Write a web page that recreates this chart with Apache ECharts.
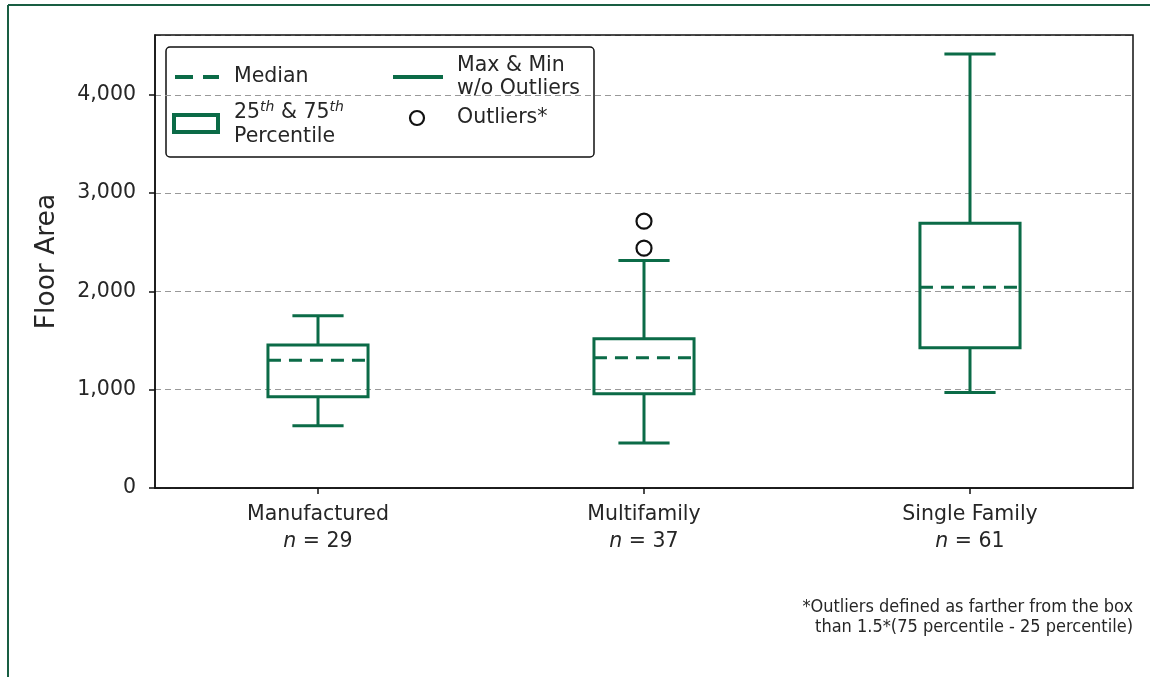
<!DOCTYPE html>
<html>
<head>
<meta charset="utf-8">
<script src="https://cdn.jsdelivr.net/npm/echarts@6/dist/echarts.min.js"></script>
<style>
html,body{margin:0;padding:0;background:#fff;}
#chart{width:1150px;height:677px;}
</style>
</head>
<body>
<div id="chart"></div>
<script>
// ---- data ----
var categories = ['Manufactured', 'Multifamily', 'Single Family'];
var nCounts = [29, 37, 61];
var whiskerLow = [632, 459, 971];
var q1 = [928, 958, 1427];
var median = [1300, 1325, 2042];
var q3 = [1455, 1519, 2694];
var whiskerHigh = [1753, 2314, 4414];
var outlierCategory = [1, 1];
var outlierValue = [2440, 2714];
var yTicks = [0, 1000, 2000, 3000, 4000];
var yMax = 4608;

var GREEN = '#0b6b47';
var FONT = 'DejaVu Sans';
var FS = 20.5;

var boxData = categories.map(function (c, i) {
  return [i, whiskerLow[i], q1[i], median[i], q3[i], whiskerHigh[i]];
});
var outlierData = outlierCategory.map(function (c, i) { return [c, outlierValue[i]]; });

function renderBox(params, api) {
  var x = api.value(0);
  var pLow = api.coord([x, api.value(1)]);
  var pQ1 = api.coord([x, api.value(2)]);
  var pMed = api.coord([x, api.value(3)]);
  var pQ3 = api.coord([x, api.value(4)]);
  var pHigh = api.coord([x, api.value(5)]);
  var band = api.size([1, 0])[0];
  var boxW = band * 0.307;
  var capW = band * 0.157;
  var cx = pQ1[0];
  var st = { stroke: GREEN, lineWidth: 3, fill: null };
  return {
    type: 'group',
    children: [
      { type: 'line', shape: { x1: cx, y1: pQ3[1], x2: cx, y2: pHigh[1] }, style: st },
      { type: 'line', shape: { x1: cx - capW / 2, y1: pHigh[1], x2: cx + capW / 2, y2: pHigh[1] }, style: st },
      { type: 'line', shape: { x1: cx, y1: pQ1[1], x2: cx, y2: pLow[1] }, style: st },
      { type: 'line', shape: { x1: cx - capW / 2, y1: pLow[1], x2: cx + capW / 2, y2: pLow[1] }, style: st },
      { type: 'rect', shape: { x: cx - boxW / 2, y: pQ3[1], width: boxW, height: pQ1[1] - pQ3[1] }, style: { stroke: GREEN, lineWidth: 3, fill: 'rgba(0,0,0,0)' } },
      { type: 'line', shape: { x1: cx - boxW / 2, y1: pMed[1], x2: cx + boxW / 2, y2: pMed[1] }, style: { stroke: GREEN, lineWidth: 3, lineDash: [13, 8] } }
    ]
  };
}

var chart = echarts.init(document.getElementById('chart'), null, { renderer: 'canvas' });

var gridL = 155, gridT = 35, gridW = 978, gridH = 453;
var legendFont = FS + 'px "DejaVu Sans"';

chart.setOption({
  backgroundColor: '#fff',
  animation: false,
  textStyle: { fontFamily: FONT },
  grid: { left: gridL, top: gridT, width: gridW, height: gridH },
  xAxis: {
    type: 'category',
    data: categories,
    boundaryGap: true,
    axisLine: { show: true, lineStyle: { color: '#111', width: 1.5 } },
    axisTick: { show: true, alignWithLabel: true, length: 6, lineStyle: { color: '#111', width: 1.5 } },
    axisLabel: {
      margin: 13,
      color: '#262626',
      formatter: function (v, idx) {
        return '{a|' + v + '}\n{i|n}{a| = ' + nCounts[idx] + '}';
      },
      rich: {
        a: { fontFamily: FONT, fontSize: FS, color: '#262626', lineHeight: 27 },
        i: { fontFamily: FONT, fontSize: FS, fontStyle: 'italic', color: '#262626', lineHeight: 27 }
      }
    },
    splitLine: { show: false }
  },
  yAxis: {
    type: 'value',
    min: 0,
    max: yMax,
    interval: 1000,
    name: 'Floor Area',
    nameLocation: 'middle',
    nameGap: 94,
    nameTextStyle: { fontFamily: FONT, fontSize: 26.5, color: '#262626' },
    axisLine: { show: true, lineStyle: { color: '#111', width: 1.5 } },
    axisTick: { show: true, length: 6, lineStyle: { color: '#111', width: 1.5 } },
    axisLabel: {
      showMaxLabel: false,
      margin: 19,
      fontFamily: FONT,
      fontSize: FS,
      color: '#262626',
      formatter: function (v) {
        if (yTicks.indexOf(v) < 0) return '';
        return v.toLocaleString('en-US');
      }
    },
    splitLine: { show: true, lineStyle: { color: '#999', width: 1.2, type: [6, 4] } }
  },
  series: [
    {
      type: 'custom',
      renderItem: renderBox,
      encode: { x: 0, y: [1, 2, 3, 4, 5] },
      data: boxData,
      z: 5
    },
    {
      type: 'scatter',
      data: outlierData,
      symbol: 'circle',
      symbolSize: 15,
      itemStyle: { color: '#fff', borderColor: '#111', borderWidth: 2.2, opacity: 1 },
      z: 6
    }
  ],
  graphic: [
    // outer frame (top + left)
    { type: 'line', z: 100, shape: { x1: 8, y1: 5, x2: 1150, y2: 5 }, style: { stroke: '#195e43', lineWidth: 2 } },
    { type: 'line', z: 100, shape: { x1: 8, y1: 5, x2: 8, y2: 677 }, style: { stroke: '#195e43', lineWidth: 2 } },
    // plot frame
    { type: 'rect', z: 100, shape: { x: gridL, y: gridT, width: gridW, height: gridH }, style: { stroke: '#111', lineWidth: 1.5, fill: 'rgba(0,0,0,0)' } },
    // legend
    {
      type: 'group', z: 110,
      children: [
        { type: 'rect', shape: { x: 166, y: 47, width: 428, height: 110, r: 4 }, style: { stroke: '#111', lineWidth: 1.5, fill: '#fff' } },
        { type: 'line', shape: { x1: 175, y1: 77, x2: 219, y2: 77 }, style: { stroke: GREEN, lineWidth: 4, lineDash: [18, 10] } },
        { type: 'text', style: { x: 234, y: 77, text: 'Median', font: legendFont, fill: '#262626', verticalAlign: 'middle' } },
        { type: 'rect', shape: { x: 174, y: 115, width: 44, height: 17 }, style: { stroke: GREEN, lineWidth: 4, fill: '#fff' } },
        {
          type: 'text',
          style: {
            x: 234, y: 113,
            text: '{a|25}{s|th}{a| & 75}{s|th}',
            verticalAlign: 'middle',
            rich: {
              a: { fontFamily: FONT, fontSize: FS, fill: '#262626', lineHeight: 25 },
              s: { fontFamily: FONT, fontSize: 14, fontStyle: 'italic', fill: '#262626', verticalAlign: 'top', lineHeight: 25 }
            }
          }
        },
        { type: 'text', style: { x: 234, y: 137, text: 'Percentile', font: legendFont, fill: '#262626', verticalAlign: 'middle' } },
        { type: 'line', shape: { x1: 393, y1: 77, x2: 443, y2: 77 }, style: { stroke: GREEN, lineWidth: 4 } },
        { type: 'text', style: { x: 457, y: 66, text: 'Max & Min', font: legendFont, fill: '#262626', verticalAlign: 'middle' } },
        { type: 'text', style: { x: 457, y: 89, text: 'w/o Outliers', font: legendFont, fill: '#262626', verticalAlign: 'middle' } },
        { type: 'circle', shape: { cx: 417, cy: 118, r: 7 }, style: { stroke: '#111', lineWidth: 2.2, fill: '#fff' } },
        { type: 'text', style: { x: 457, y: 118, text: 'Outliers*', font: legendFont, fill: '#262626', verticalAlign: 'middle' } }
      ]
    },
    // footnote
    { type: 'text', z: 100, style: { x: 1133, y: 607, text: '*Outliers defined as farther from the box', font: '18px "DejaVu Sans Condensed", "DejaVu Sans"', fill: '#262626', align: 'right', verticalAlign: 'middle' } },
    { type: 'text', z: 100, style: { x: 1133, y: 627, text: 'than 1.5*(75 percentile - 25 percentile)', font: '18px "DejaVu Sans Condensed", "DejaVu Sans"', fill: '#262626', align: 'right', verticalAlign: 'middle' } }
  ]
});
</script>
</body>
</html>
